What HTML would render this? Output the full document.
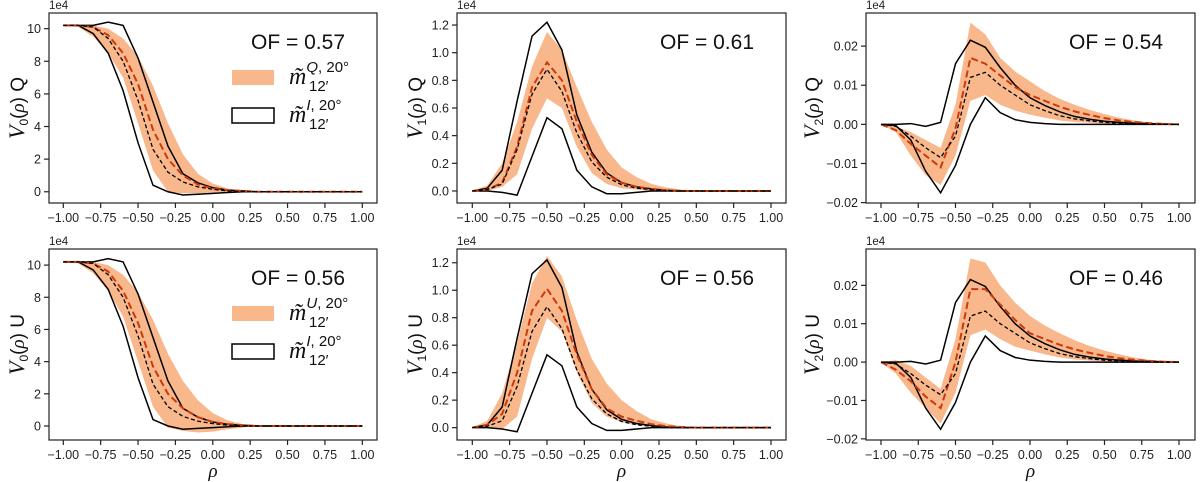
<!DOCTYPE html>
<html><head><meta charset="utf-8"><style>
html,body{margin:0;padding:0;background:#fff}
svg{display:block;font-family:"Liberation Sans","DejaVu Sans",sans-serif}
</style></head><body>
<svg id="fig" width="1200" height="482" viewBox="0 0 1200 482" xmlns="http://www.w3.org/2000/svg"></svg>
<script>
const rhoValues=[-1,-0.9,-0.8,-0.7,-0.6,-0.5,-0.4,-0.3,-0.2,-0.1,0,0.1,0.2,0.3,0.4,0.5,0.6,0.7,0.8,0.9,1];
// V0
const v0Upper=[10.2,10.2,10.2,10.4,10.2,8.2,5.5,2.8,1.1,0.55,0.25,0.1,0.05,0,0,0,0,0,0,0,0];
const v0Lower=[10.2,10.2,9.7,8.5,6.2,3.0,0.4,0,-0.2,-0.15,-0.1,-0.05,0,0,0,0,0,0,0,0,0];
const v0BlackDash=[10.2,10.2,10.1,9.4,8.0,5.6,2.6,1.2,0.6,0.3,0.15,0.05,0,0,0,0,0,0,0,0,0];
const v0QRed=[10.2,10.2,10.1,9.6,8.5,6.6,3.8,2.0,1.0,0.45,0.2,0.1,0.05,0,0,0,0,0,0,0,0];
const v0QBandHi=[10.2,10.2,10.2,10,9.4,8.3,6.5,4.2,2.3,1.1,0.5,0.2,0.05,0,0,0,0,0,0,0,0];
const v0QBandLo=[10.2,10.1,9.5,8.5,7.0,4.2,1.3,0,-0.1,-0.1,-0.05,0,0,0,0,0,0,0,0,0,0];
const v0URed=[10.2,10.2,10.1,9.6,8.4,6.4,3.7,2.0,1.1,0.55,0.25,0.12,0.05,0,0,0,0,0,0,0,0];
const v0UBandHi=[10.2,10.2,10.2,10,9.4,8.3,6.6,4.5,2.8,1.6,0.8,0.35,0.12,0.05,0,0,0,0,0,0,0];
const v0UBandLo=[10.2,10.1,9.5,8.4,6.8,4.0,1.2,-0.1,-0.3,-0.4,-0.35,-0.2,-0.1,0,0,0,0,0,0,0,0];
// V1
const v1Upper=[0,0.02,0.15,0.65,1.12,1.22,1.02,0.55,0.28,0.13,0.06,0.03,0.015,0.005,0,0,0,0,0,0,0];
const v1Lower=[0,0,-0.01,-0.03,0.25,0.53,0.45,0.15,0.03,-0.02,-0.02,-0.01,0,0,0,0,0,0,0,0,0];
const v1BlackDash=[0,0.01,0.05,0.3,0.7,0.88,0.72,0.42,0.21,0.1,0.045,0.02,0.01,0,0,0,0,0,0,0,0];
const v1QRed=[0,0.01,0.06,0.32,0.75,0.93,0.8,0.5,0.26,0.12,0.06,0.03,0.015,0.005,0,0,0,0,0,0,0];
const v1QBandHi=[0,0.04,0.2,0.5,0.9,1.15,1.02,0.75,0.5,0.3,0.17,0.1,0.05,0.025,0.01,0,0,0,0,0,0];
const v1QBandLo=[0,0,0.03,0.12,0.45,0.67,0.6,0.32,0.13,0.05,0.02,0.01,0,0,0,0,0,0,0,0,0];
const v1URed=[0,0.02,0.1,0.4,0.85,1.01,0.85,0.53,0.28,0.14,0.08,0.05,0.025,0.01,0.005,0,0,0,0,0,0];
const v1UBandHi=[0,0.05,0.25,0.62,1.05,1.25,1.1,0.78,0.5,0.32,0.2,0.12,0.06,0.03,0.01,0.005,0,0,0,0,0];
const v1UBandLo=[0,0,-0.01,0.08,0.5,0.8,0.7,0.4,0.18,0.08,0.04,0.02,0.01,0,0,0,0,0,0,0,0];
// V2
const v2Upper=[0,0,0.0002,-0.0005,0.0005,0.0155,0.0215,0.0197,0.0145,0.01,0.0068,0.0048,0.0032,0.002,0.0013,0.0008,0.0005,0.0003,0.0002,0.0001,0];
const v2Lower=[0,-0.0003,-0.004,-0.012,-0.0175,-0.0105,0,0.0068,0.003,0.0012,0.0005,0.0002,0,0,0,0,0,0,0,0,0];
const v2BlackDash=[0,-0.0005,-0.003,-0.006,-0.0085,-0.003,0.012,0.0133,0.01,0.0075,0.005,0.0035,0.0022,0.0014,0.0009,0.0005,0.0003,0.0002,0.0001,0,0];
const v2QRed=[0,-0.0015,-0.005,-0.008,-0.011,-0.001,0.017,0.0155,0.0125,0.0095,0.0075,0.006,0.0045,0.0033,0.0024,0.0016,0.001,0.0006,0.0003,0.0001,0];
const v2QBandHi=[0,-0.0005,-0.002,-0.004,-0.006,0.005,0.026,0.023,0.017,0.0135,0.011,0.0085,0.0065,0.005,0.0037,0.0026,0.0017,0.001,0.0005,0.0002,0];
const v2QBandLo=[0,-0.002,-0.008,-0.013,-0.0155,-0.008,0.006,0.0075,0.005,0.0035,0.0025,0.0017,0.001,0.0006,0.0004,0.0002,0.0001,0,0,0,0];
const v2URed=[0,-0.002,-0.005,-0.009,-0.012,0,0.019,0.019,0.015,0.011,0.0075,0.006,0.0045,0.0033,0.0024,0.0016,0.001,0.0006,0.0003,0.0001,0];
const v2UBandHi=[0,0.0005,-0.001,-0.004,-0.007,0.006,0.027,0.026,0.02,0.0155,0.012,0.0095,0.0075,0.0057,0.0042,0.003,0.002,0.0012,0.0006,0.0002,0];
const v2UBandLo=[0,-0.003,-0.008,-0.012,-0.016,-0.008,0.007,0.0085,0.006,0.004,0.003,0.002,0.0012,0.0007,0.0004,0.0002,0.0001,0,0,0,0];
const xTickValues=[-1,-0.75,-0.5,-0.25,0,0.25,0.5,0.75,1];
const xTickLabels=["−1.00","−0.75","−0.50","−0.25","0.00","0.25","0.50","0.75","1.00"];
const yTicksV0=[0,2,4,6,8,10], yLabelsV0=["0","2","4","6","8","10"];
const yTicksV1=[0,0.2,0.4,0.6,0.8,1.0,1.2], yLabelsV1=["0.0","0.2","0.4","0.6","0.8","1.0","1.2"];
const yTicksV2=[-0.02,-0.01,0,0.01,0.02], yLabelsV2=["−0.02","−0.01","0.00","0.01","0.02"];
const ofValues=["0.57","0.61","0.54","0.56","0.56","0.46"];

const NS="http://www.w3.org/2000/svg";
const svg=document.getElementById('fig');
function mk(tag,attrs,parent){const e=document.createElementNS(NS,tag);for(const k in attrs)e.setAttribute(k,attrs[k]);(parent||svg).appendChild(e);return e;}

const panels=[
 {box:[49,13,377,203],xr:[63.3,362.3],yd:[-0.69,10.96],idx:0,st:"Q",ticks:yTicksV0,labels:yLabelsV0,up:v0Upper,lo:v0Lower,bd:v0BlackDash,red:v0QRed,bh:v0QBandHi,bl:v0QBandLo,legend:true},
 {box:[457,13,786,203],xr:[472.3,771],yd:[-0.087,1.287],idx:1,st:"Q",ticks:yTicksV1,labels:yLabelsV1,up:v1Upper,lo:v1Lower,bd:v1BlackDash,red:v1QRed,bh:v1QBandHi,bl:v1QBandLo},
 {box:[866,13,1195,203],xr:[881,1179],yd:[-0.0201,0.02846],idx:2,st:"Q",ticks:yTicksV2,labels:yLabelsV2,up:v2Upper,lo:v2Lower,bd:v2BlackDash,red:v2QRed,bh:v2QBandHi,bl:v2QBandLo},
 {box:[49,249,377,440],xr:[63.3,362.3],yd:[-0.87,11.0],idx:0,st:"U",ticks:yTicksV0,labels:yLabelsV0,up:v0Upper,lo:v0Lower,bd:v0BlackDash,red:v0URed,bh:v0UBandHi,bl:v0UBandLo,legend:true,xlab:true},
 {box:[457,249,786,440],xr:[472.3,771],yd:[-0.09,1.30],idx:1,st:"U",ticks:yTicksV1,labels:yLabelsV1,up:v1Upper,lo:v1Lower,bd:v1BlackDash,red:v1URed,bh:v1UBandHi,bl:v1UBandLo,xlab:true},
 {box:[866,249,1195,440],xr:[881,1179],yd:[-0.0203,0.02947],idx:2,st:"U",ticks:yTicksV2,labels:yLabelsV2,up:v2Upper,lo:v2Lower,bd:v2BlackDash,red:v2URed,bh:v2UBandHi,bl:v2UBandLo,xlab:true}
];

panels.forEach((p,pi)=>{
 const [L,T,R,B]=p.box;
 const xs=v=>p.xr[0]+(v+1)/2*(p.xr[1]-p.xr[0]);
 const ys=v=>B-(v-p.yd[0])/(p.yd[1]-p.yd[0])*(B-T);
 const g=mk('g',{});
 
 
 const cid='clip'+pi;
 const cp=mk('clipPath',{id:cid},g);mk('rect',{x:L,y:T,width:R-L,height:B-T},cp);
 const plot=mk('g',{'clip-path':'url(#'+cid+')'},g);
 const pts=arr=>arr.map((v,i)=>xs(rhoValues[i]).toFixed(2)+','+ys(v).toFixed(2));
 const band=mk('polygon',{points:pts(p.bh).concat(pts(p.bl).reverse()).join(' '),fill:'#f9b78c',stroke:'none'},plot);
 
 
 const l1=mk('polyline',{points:pts(p.up).join(' '),fill:'none',stroke:'#000','stroke-width':1.5},plot);
 
 
 const l2=mk('polyline',{points:pts(p.lo).join(' '),fill:'none',stroke:'#000','stroke-width':1.5},plot);
 
 
 const l3=mk('polyline',{points:pts(p.red).join(' '),fill:'none',stroke:'#cc3a0a','stroke-width':2,'stroke-dasharray':'7,3.5'},plot);
 
 
 const l4=mk('polyline',{points:pts(p.bd).join(' '),fill:'none',stroke:'#000','stroke-width':1.3,'stroke-dasharray':'4,2.5'},plot);
 
 
 const fr=mk('rect',{x:L,y:T,width:R-L,height:B-T,fill:'none',stroke:'#222','stroke-width':1.2},g);
 
 
 xTickValues.forEach((v,i)=>{
  const x=xs(v);
  mk('line',{x1:x,y1:B,x2:x,y2:B+5,stroke:'#222','stroke-width':1.2},g);
  const t=mk('text',{x:x,y:B+19,'text-anchor':'middle','font-size':12.5,fill:'#222'},g);
  t.textContent=xTickLabels[i];
  
  
 });
 p.ticks.forEach((v,i)=>{
  const y=ys(v);
  mk('line',{x1:L-5,y1:y,x2:L,y2:y,stroke:'#222','stroke-width':1.2},g);
  const t=mk('text',{x:L-8,y:y+4.5,'text-anchor':'end','font-size':12.5,fill:'#222'},g);
  t.textContent=p.labels[i];
  
  
 });
 const off=mk('text',{x:L,y:T-4,'font-size':11.5,fill:'#222'},g);
 off.textContent='1e4';
 
 
 const cy=(T+B)/2, lx=p.idx===2?L-47:(p.idx===1?L-35:L-25);
 const yl=mk('text',{x:lx,y:cy,'text-anchor':'middle','font-size':19,fill:'#111',transform:'rotate(-90 '+lx+' '+cy+')'},g);
 yl.innerHTML='<tspan font-family="Liberation Serif" font-style="italic" font-size="22">V</tspan><tspan font-size="12" dy="4">'+p.idx+'</tspan><tspan dy="-4">(</tspan><tspan font-family="Liberation Serif" font-style="italic">ρ</tspan><tspan>) '+p.st+'</tspan>';
 
 
 const of=mk('text',{x:R-32,y:T+36,'text-anchor':'end','font-size':21,fill:'#111'},g);
 of.textContent='OF = '+ofValues[pi];
 
 
 if(p.xlab){
  const xl=mk('text',{x:(L+R)/2,y:B+37,'text-anchor':'middle','font-size':19,'font-family':'Liberation Serif','font-style':'italic',fill:'#111'},g);
  xl.textContent='ρ';
  
  
 }
 if(p.legend){
  const lg=mk('g',{},g);
  
  
  const oy=T+57, by=T+95;
  const r1=mk('rect',{x:232,y:oy,width:42,height:15,fill:'#f9b78c'},lg);
  
  
  const r2=mk('rect',{x:232,y:by,width:42,height:15,fill:'#fff',stroke:'#000','stroke-width':1.5},lg);
  
  
  [[oy,p.st],[by,'I']].forEach(([yy,s])=>{
   const t=mk('text',{x:289,y:yy+14,'font-size':24,fill:'#111'},lg);
   t.innerHTML='<tspan font-family="Liberation Serif" font-style="italic">m̃</tspan><tspan font-size="15" dy="-12" font-style="italic">'+s+'</tspan><tspan font-size="15">, 20°</tspan><tspan font-size="15" x="309" dy="19">12′</tspan>';
   
   
  });
 }
});
</script>
</body></html>
